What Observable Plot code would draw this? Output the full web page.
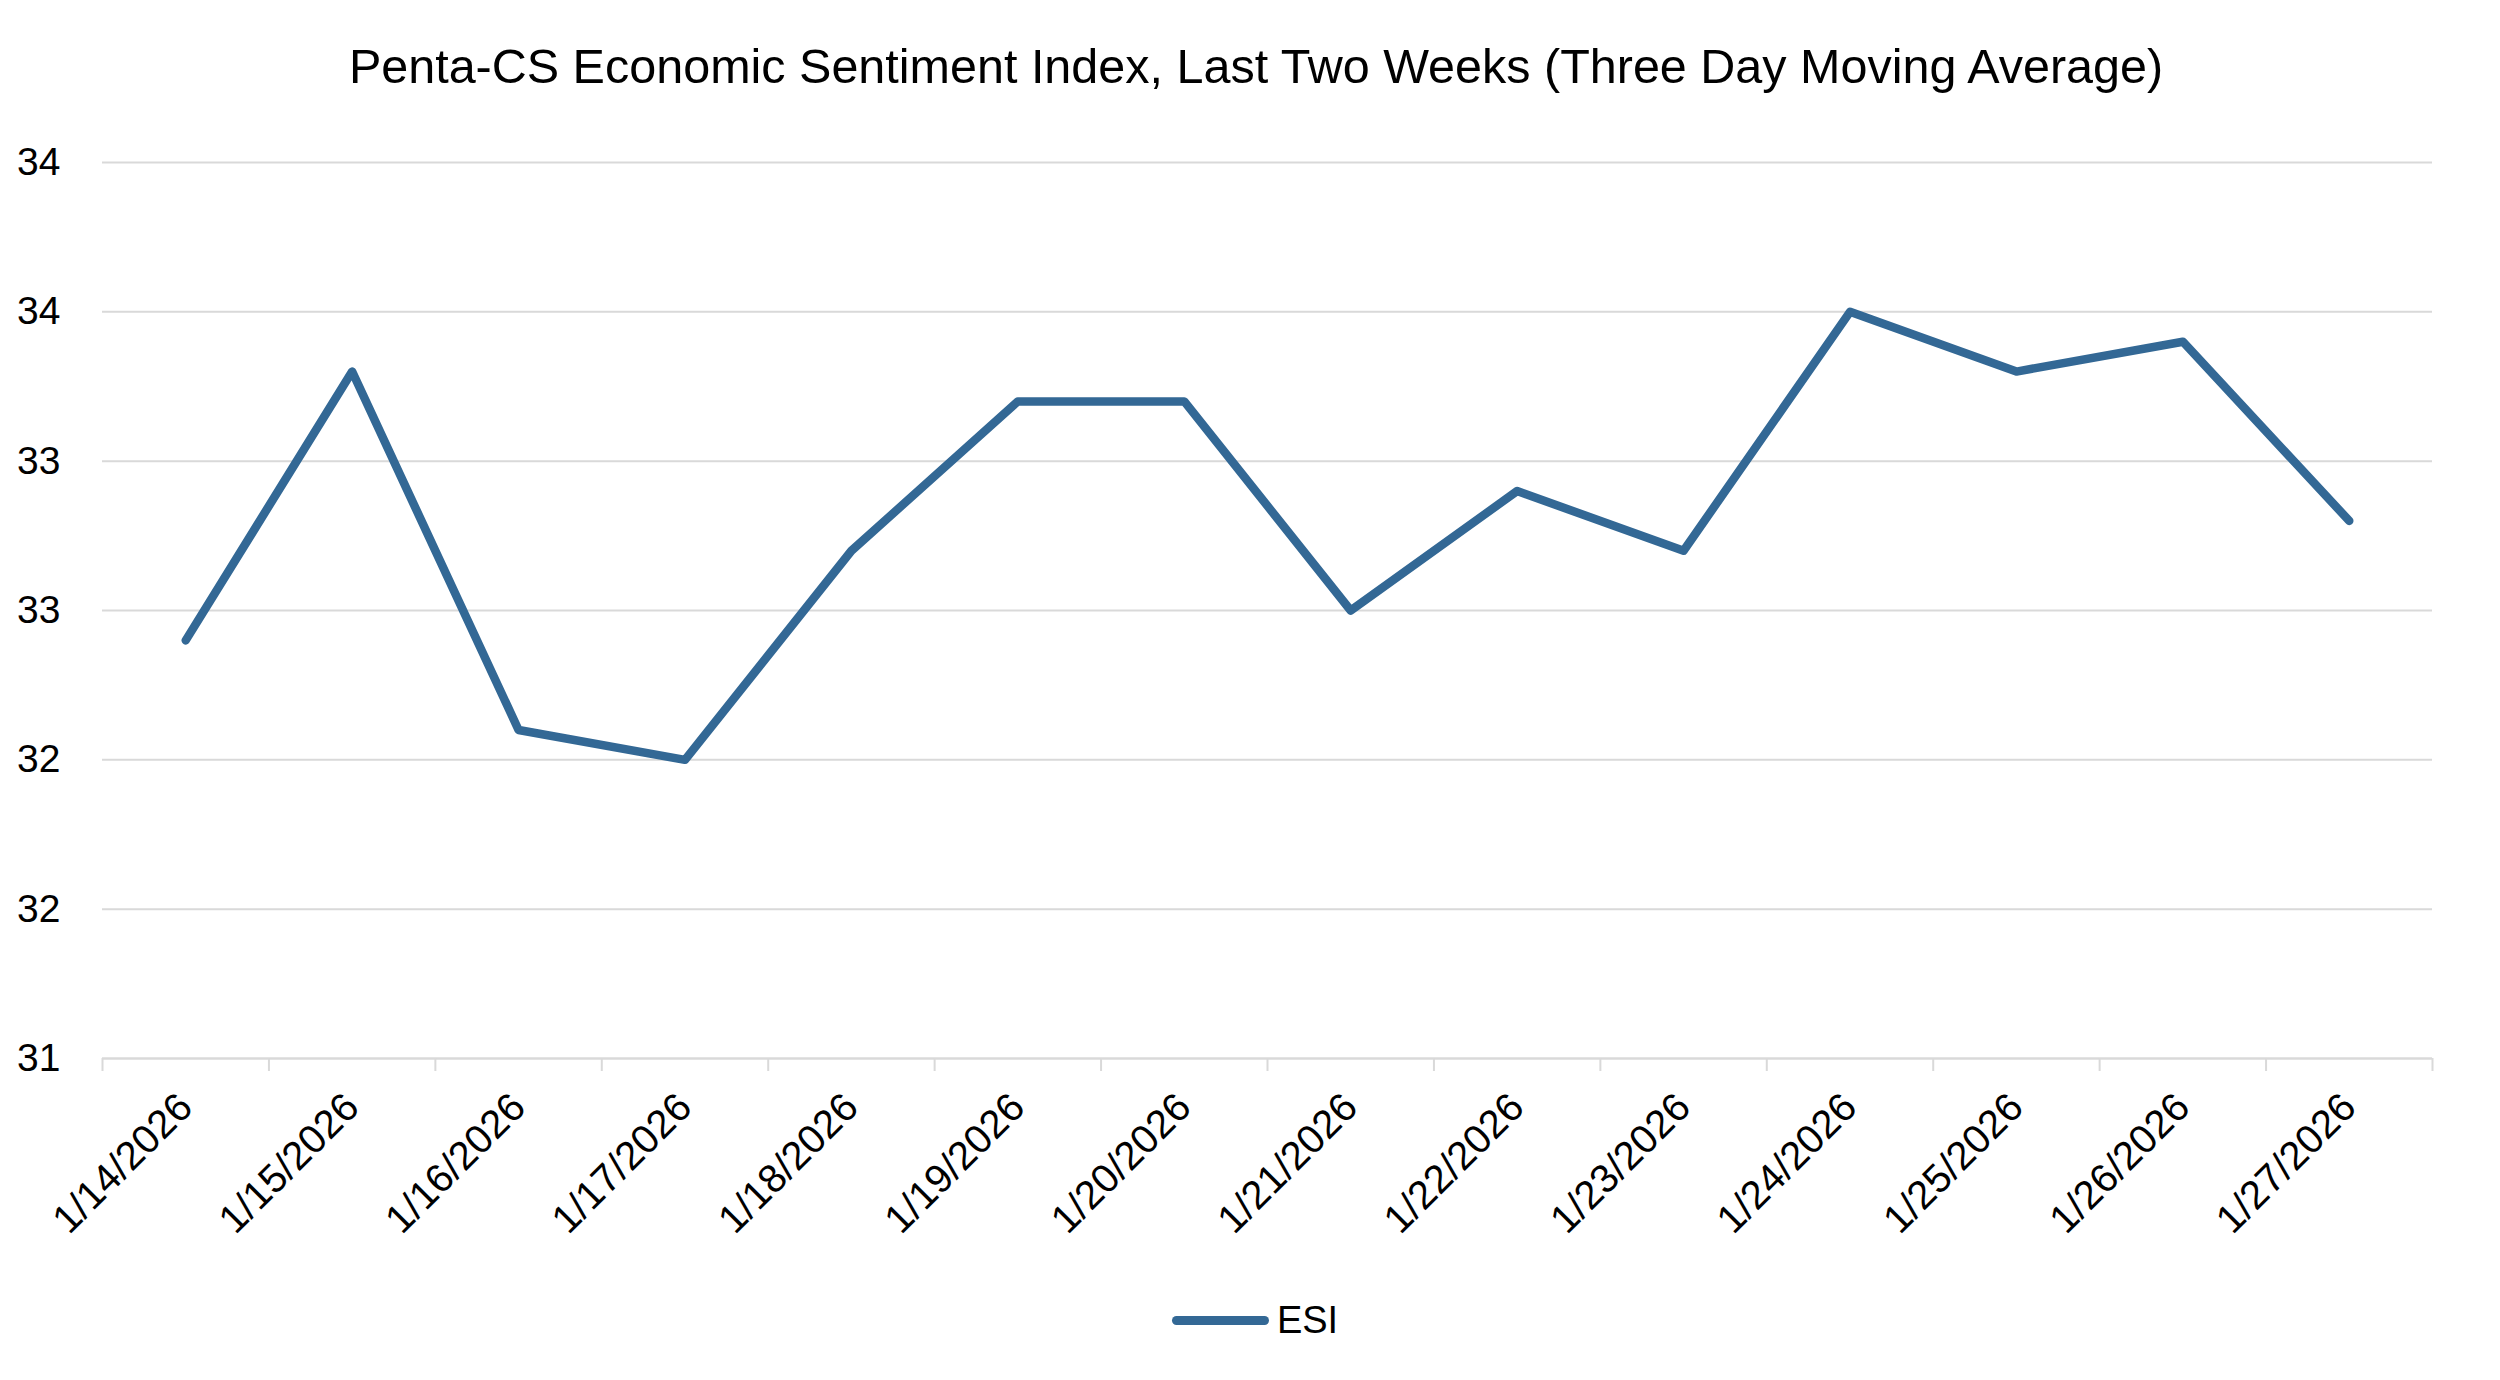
<!DOCTYPE html>
<html>
<head>
<meta charset="utf-8">
<script src="https://cdn.jsdelivr.net/npm/d3@7"></script>
<script src="https://cdn.jsdelivr.net/npm/@observablehq/plot@0.6"></script>
<style>
  html, body { margin: 0; padding: 0; background: #fff; }
  body { width: 2500px; height: 1380px; font-family: "Liberation Sans", Arial, sans-serif; color: #000; }
  #title { height: 110px; display: flex; align-items: center; justify-content: center; font-size: 48.5px; padding-left: 12px; padding-top: 22px; box-sizing: border-box; }
  #legend { height: 60px; display: flex; align-items: center; justify-content: center; font-size: 38px; padding-left: 10px; }
  #legend .sw { width: 97px; height: 9px; border-radius: 5px; background: #336895; margin-right: 8px; }
</style>
</head>
<body>
<div id="title">Penta-CS Economic Sentiment Index, Last Two Weeks (Three Day Moving Average)</div>
<div id="chart"></div>
<div id="legend"><span class="sw"></span><span>ESI</span></div>
<script>
const dates = ["1/14/2026","1/15/2026","1/16/2026","1/17/2026","1/18/2026","1/19/2026","1/20/2026",
               "1/21/2026","1/22/2026","1/23/2026","1/24/2026","1/25/2026","1/26/2026","1/27/2026"];
const esi = [32.4, 33.3, 32.1, 32.0, 32.7, 33.2, 33.2, 32.5, 32.9, 32.7, 33.5, 33.3, 33.4, 32.8];
const yTicks = [31, 31.5, 32, 32.5, 33, 33.5, 34];
const yTickLabels = ["31", "32", "32", "33", "33", "34", "34"];
const seriesName = "ESI";

const data = dates.map((d, i) => ({i, date: d, value: esi[i]}));
const catIdx = dates.map((d, i) => i);
const boundaries = dates.map((d, i) => i - 0.5).concat([dates.length - 0.5]);

const color = "#336895";
const plot = Plot.plot({
  width: 2500,
  height: 1180,
  marginTop: 52,
  marginBottom: 232,
  marginLeft: 102,
  marginRight: 68,
  style: {fontFamily: "Liberation Sans, Arial, sans-serif", fontSize: "39px", color: "#000", background: "#fff"},
  x: {type: "linear", domain: [-0.5, dates.length - 0.5]},
  y: {domain: [31, 34]},
  marks: [
    Plot.gridY(yTicks, {stroke: "#d9d9d9", strokeOpacity: 1, strokeWidth: 2}),
    Plot.ruleY([31], {stroke: "#d9d9d9", strokeWidth: 2}),
    Plot.axisY(yTicks, {tickSize: 0, tickPadding: 42, tickFormat: (d, i) => yTickLabels[i], fontSize: 39, label: null}),
    Plot.axisX(boundaries, {tickSize: 13, stroke: "#d9d9d9", strokeWidth: 2, tickFormat: () => "", label: null}),
    Plot.axisX(catIdx, {tickSize: 0, tickPadding: 42, tickRotate: -45, tickFormat: (d) => dates[d], fontSize: 40, label: null}),
    Plot.line(data, {x: "i", y: "value", stroke: color, strokeWidth: 8.5, strokeLinecap: "round", strokeLinejoin: "round"})
  ]
});
document.getElementById("chart").appendChild(plot);
</script>
</body>
</html>
